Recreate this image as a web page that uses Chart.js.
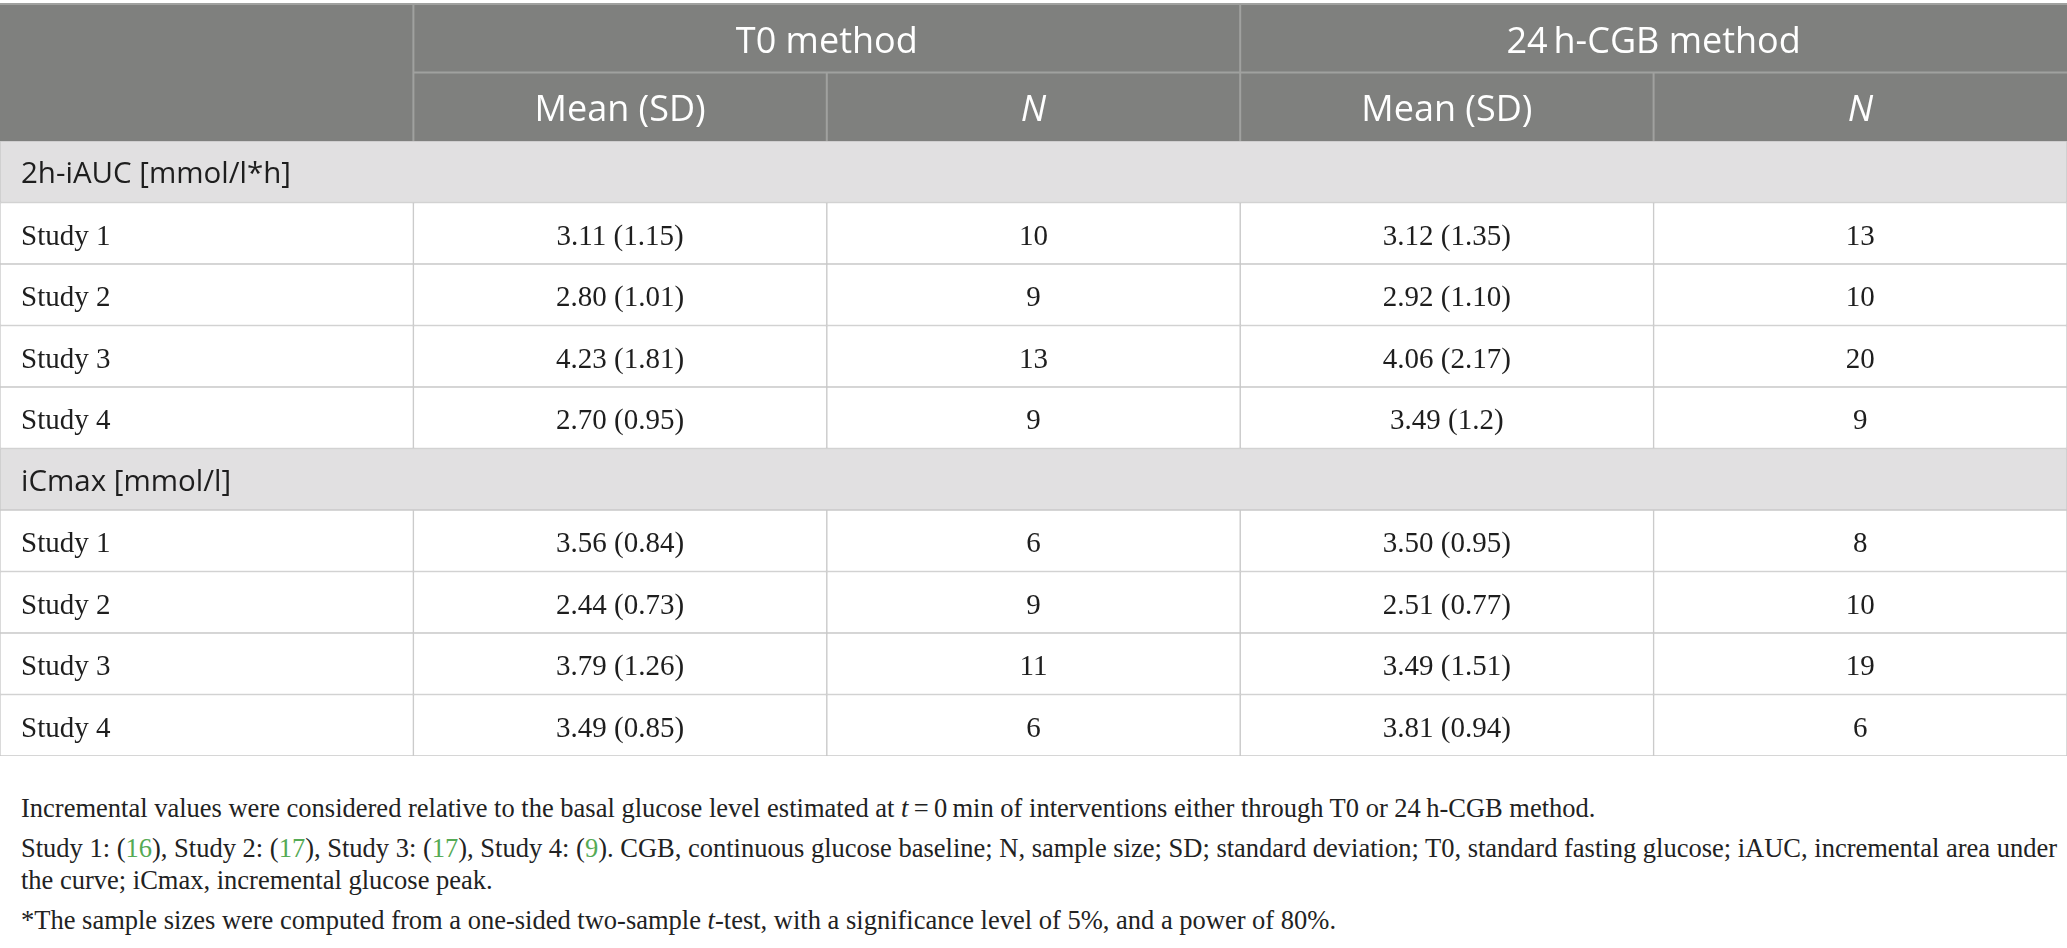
<!DOCTYPE html>
<html>
<head>
<meta charset="utf-8">
<script src="https://cdn.jsdelivr.net/npm/chart.js@4.4.1/dist/chart.umd.min.js"></script>
<style>
  body { margin: 0; background: #fff; }
  #wrap { position: absolute; left: 0; top: 0; width: 2067px; height: 760px; }
  #notes { position: absolute; left: 21px; top: 792px; font-family: "Liberation Serif", serif;
           font-size: 26.5px; line-height: 32px; color: #222; white-space: nowrap; }
  #notes p { margin: 0 0 8px 0; }
  .ref { color: #55aa55; }
</style>
</head>
<body>
<div id="wrap"><canvas id="table"></canvas></div>
<div id="notes">
  <p>Incremental values were considered relative to the basal glucose level estimated at <i>t</i>&thinsp;=&thinsp;0&thinsp;min of interventions either through T0 or 24&thinsp;h-CGB method.</p>
  <p>Study 1: (<span class="ref">16</span>), Study 2: (<span class="ref">17</span>), Study 3: (<span class="ref">17</span>), Study 4: (<span class="ref">9</span>). CGB, continuous glucose baseline; N, sample size; SD; standard deviation; T0, standard fasting glucose; iAUC, incremental area under<br>the curve; iCmax, incremental glucose peak.</p>
  <p>*The sample sizes were computed from a one-sided two-sample <i>t</i>-test, with a significance level of 5%, and a power of 80%.</p>
</div>
<script>
// header labels
const groups = ['T0 method', '24\u2009h-CGB method'];
const subHeads = ['Mean (SD)', 'N', 'Mean (SD)', 'N'];

// row labels
const sections = ['2h-iAUC [mmol/l*h]', 'iCmax [mmol/l]'];
const studies = ['Study 1', 'Study 2', 'Study 3', 'Study 4'];

// 2h-iAUC values
const aucT0Mean = ['3.11', '2.80', '4.23', '2.70'];
const aucT0SD = ['1.15', '1.01', '1.81', '0.95'];
const aucT0N = [10, 9, 13, 9];
const aucCgbMean = ['3.12', '2.92', '4.06', '3.49'];
const aucCgbSD = ['1.35', '1.10', '2.17', '1.2'];
const aucCgbN = [13, 10, 20, 9];

// iCmax values
const cmaxT0Mean = ['3.56', '2.44', '3.79', '3.49'];
const cmaxT0SD = ['0.84', '0.73', '1.26', '0.85'];
const cmaxT0N = [6, 9, 11, 6];
const cmaxCgbMean = ['3.50', '2.51', '3.49', '3.81'];
const cmaxCgbSD = ['0.95', '0.77', '1.51', '0.94'];
const cmaxCgbN = [8, 10, 19, 6];

// build rows: a section row followed by its study rows
const rows = [];
function addBlock(title, t0m, t0s, t0n, cm, cs, cn) {
  rows.push({ kind: 'section', label: title });
  studies.forEach(function(s, i) {
    rows.push({ kind: 'study', label: s,
      cells: [t0m[i] + ' (' + t0s[i] + ')', String(t0n[i]), cm[i] + ' (' + cs[i] + ')', String(cn[i])] });
  });
}
addBlock(sections[0], aucT0Mean, aucT0SD, aucT0N, aucCgbMean, aucCgbSD, aucCgbN);
addBlock(sections[1], cmaxT0Mean, cmaxT0SD, cmaxT0N, cmaxCgbMean, cmaxCgbSD, cmaxCgbN);

const nCols = 5;
const datasets = [];
for (let c = 0; c < nCols; c++) {
  datasets.push({
    data: rows.map(r => r.kind === 'section' ? (c === 0 ? [0, nCols] : null) : [c, c + 1]),
    backgroundColor: rows.map(r => r.kind === 'section' ? '#e1e0e1' : '#ffffff'),
    borderColor: '#c8c8c8',
    borderWidth: 1,
    borderSkipped: false,
    grouped: false,
    barPercentage: 1,
    categoryPercentage: 1
  });
}

const sans = '"Open Sans", "Noto Sans", sans-serif';
const serif = '"Liberation Serif", serif';

const tablePlugin = {
  id: 'tableText',
  beforeDatasetsDraw(chart) {
    // header block above the chart area
    const ctx = chart.ctx, x = chart.scales.x, area = chart.chartArea;
    const top = 4, mid = (top + area.top) / 2;
    const x0 = x.getPixelForValue(0), x5 = x.getPixelForValue(5);
    ctx.save();
    ctx.fillStyle = '#7f807e';
    ctx.fillRect(x0, top, x5 - x0, area.top - top);
    ctx.strokeStyle = '#a0a19f';
    ctx.lineWidth = 2;
    ctx.beginPath();
    ctx.moveTo(x0, top); ctx.lineTo(x5, top);
    ctx.moveTo(x.getPixelForValue(1), mid); ctx.lineTo(x5, mid);
    [1, 3].forEach(v => { const p = x.getPixelForValue(v); ctx.moveTo(p, top); ctx.lineTo(p, area.top); });
    [2, 4].forEach(v => { const p = x.getPixelForValue(v); ctx.moveTo(p, mid); ctx.lineTo(p, area.top); });
    ctx.stroke();
    ctx.fillStyle = '#ffffff';
    ctx.textAlign = 'center';
    ctx.textBaseline = 'middle';
    ctx.font = '36px ' + sans;
    groups.forEach((g, i) => ctx.fillText(g, x.getPixelForValue(2 + 2 * i), (top + mid) / 2 + 4));
    subHeads.forEach((h, i) => {
      ctx.font = (h === 'N' ? 'italic ' : '') + '36px ' + sans;
      ctx.fillText(h, x.getPixelForValue(1.5 + i), (mid + area.top) / 2 + 4);
    });
    ctx.restore();
  },
  afterDatasetsDraw(chart) {
    const ctx = chart.ctx, x = chart.scales.x, y = chart.scales.y;
    ctx.save();
    ctx.textBaseline = 'middle';
    rows.forEach((r, i) => {
      const py = y.getPixelForValue(i) + 3;
      ctx.fillStyle = '#1e1e1e';
      if (r.kind === 'section') {
        ctx.font = '29.5px ' + sans;
        ctx.textAlign = 'left';
        ctx.fillText(r.label, x.getPixelForValue(0) + 21, py);
      } else {
        ctx.font = '29px ' + serif;
        ctx.textAlign = 'left';
        ctx.fillText(r.label, x.getPixelForValue(0) + 21, py + 1);
        ctx.textAlign = 'center';
        r.cells.forEach((t, c) => ctx.fillText(t, x.getPixelForValue(c + 1.5), py + 1));
      }
    });
    ctx.restore();
  }
};

new Chart(document.getElementById('table'), {
  type: 'bar',
  data: { labels: rows.map(r => r.label), datasets: datasets },
  options: {
    indexAxis: 'y',
    responsive: true,
    maintainAspectRatio: false,
    animation: false,
    layout: { padding: { top: 141, bottom: 4, left: 0, right: 0 } },
    scales: {
      x: { type: 'linear', min: 0, max: nCols, display: false },
      y: { type: 'category', display: false, offset: true }
    },
    plugins: { legend: { display: false }, tooltip: { enabled: false } }
  },
  plugins: [tablePlugin]
});
</script>
</body>
</html>
